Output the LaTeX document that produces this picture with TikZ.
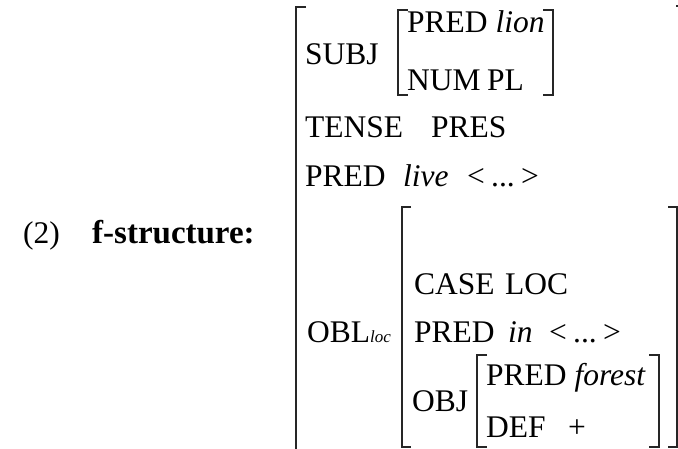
\documentclass[tikz,border=0pt]{standalone}
\usepackage{fontspec}
\setmainfont{Liberation Serif}
\begin{document}
\begin{tikzpicture}[x=1pt,y=-1pt,
    feat/.style={anchor=base west,inner sep=0pt,font=\fontsize{31.5}{37}\selectfont},
    brack/.style={line width=1.3pt,black!85}]
    \useasboundingbox (0,0) rectangle (678,449);
    % label
    \node[feat] (num) at (23,244) {(2)};
    \node[feat,font=\fontsize{33}{38}\selectfont\bfseries] (fstr) at (92,244) {f-structure:};
    % outer matrix
    \draw[brack] (306,7) -- (296,7) -- (296,470);
    \draw[brack] (676,6) -- (686,6) -- (686,470);
    \node[feat] (subj) at (305,65) {SUBJ};
    \draw[brack] (408,10) -- (398,10) -- (398,95) -- (408,95);
    \draw[brack] (543,10) -- (553,10) -- (553,95) -- (543,95);
    \node[feat] (pred1) at (407,33) {PRED \textit{lion}};
    \node[feat] (numattr) at (407,91) {NUM};
    \node[feat] (pl) at (487,91) {PL};
    \node[feat] (tense) at (305,138) {TENSE};
    \node[feat] (pres) at (431,138) {PRES};
    \node[feat] (pred2) at (305,187) {PRED};
    \node[feat] (live) at (403,187) {\textit{live}};
    \node[feat] (lt1) at (467,187) {<};
    \node[feat] (dots1) at (491,187) {...};
    \node[feat] (gt1) at (521,187) {>};
    % oblique
    \node[feat] (obl) at (307,343) {OBL\textit{\fontsize{17}{20}\selectfont loc}};
    \draw[brack] (411,207) -- (402,207) -- (402,447) -- (411,447);
    \draw[brack] (668,207) -- (677,207) -- (677,447) -- (668,447);
    \node[feat] (case) at (414,295) {CASE};
    \node[feat] (loc) at (505,295) {LOC};
    \node[feat] (pred3) at (414,343) {PRED};
    \node[feat] (in) at (508,343) {\textit{in}};
    \node[feat] (lt2) at (549,343) {<};
    \node[feat] (dots2) at (573,343) {...};
    \node[feat] (gt2) at (603,343) {>};
    \node[feat] (obj) at (412,411) {OBJ};
    \draw[brack] (487,355) -- (477,355) -- (477,447) -- (487,447);
    \draw[brack] (649,355) -- (659,355) -- (659,447) -- (649,447);
    \node[feat] (pred4) at (486,385) {PRED \textit{forest}};
    \node[feat] (def) at (486,437) {DEF};
    \node[feat] (plus) at (568,437) {+};
\end{tikzpicture}
\end{document}
